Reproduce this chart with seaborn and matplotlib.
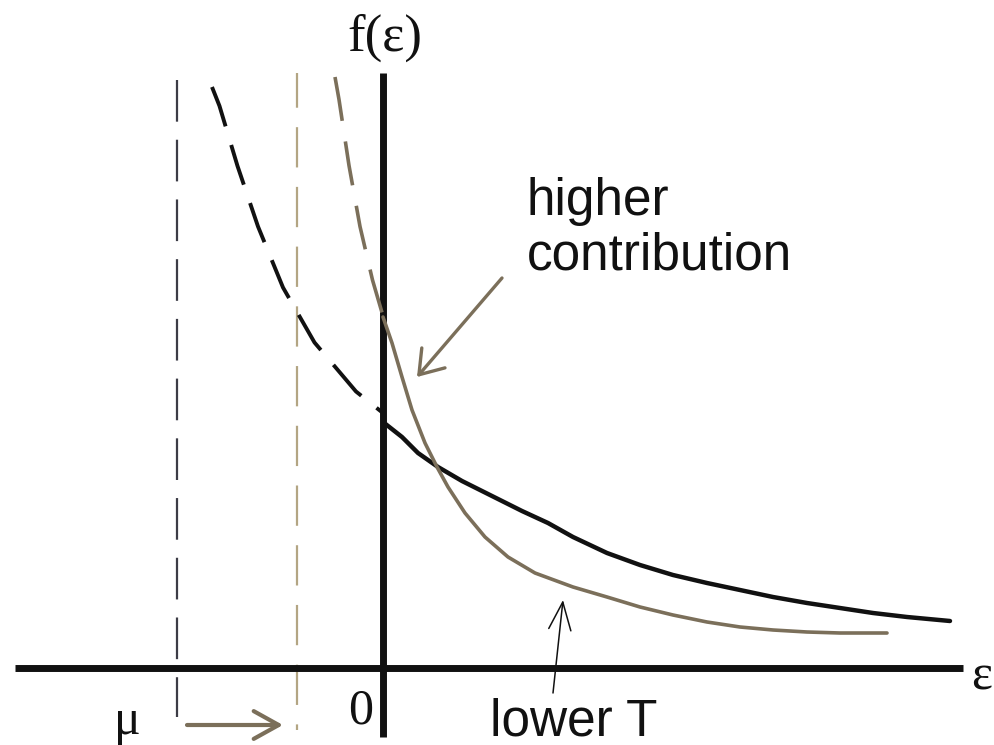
import matplotlib
matplotlib.use("Agg")
import matplotlib.pyplot as plt
import numpy as np
import pandas as pd
import seaborn as sns
from matplotlib.patches import FancyArrowPatch

# Fermi-Dirac style occupation f(eps) sketch: higher T (black) vs lower T (tan)
# Energies measured from the band edge (eps = 0); chemical potentials left of it.
mu_high_T = -2.06
mu_low_T = -0.86

# higher-temperature curve: dashed part below eps = 0, solid part above
high_T_dashed_eps = [-1.71, -1.635, -1.455, -1.25, -1.00, -0.685, -0.27, 0.00]
high_T_dashed_f = [5.81, 5.62, 5.02, 4.415, 3.805, 3.255, 2.765, 2.55]
high_T_eps = [0.00, 0.19, 0.35, 0.55, 0.79, 1.09, 1.39, 1.65, 1.90, 2.24,
              2.57, 2.90, 3.24, 3.57, 3.90, 4.24, 4.57, 4.90, 5.24, 5.67]
high_T_f = [2.46, 2.31, 2.15, 2.01, 1.87, 1.72, 1.57, 1.45, 1.31, 1.15,
            1.03, 0.93, 0.85, 0.78, 0.71, 0.65, 0.60, 0.55, 0.51, 0.47]

# lower-temperature curve
low_T_dashed_eps = [-0.48, -0.44, -0.34, -0.23, -0.105, 0.00]
low_T_dashed_f = [5.91, 5.685, 5.025, 4.415, 3.88, 3.52]
low_T_eps = [0.00, 0.09, 0.19, 0.29, 0.42, 0.54, 0.65, 0.82, 1.02, 1.25, 1.52,
             1.90, 2.24, 2.57, 2.90, 3.24, 3.57, 3.90, 4.24, 4.57, 5.04]
low_T_f = [3.51, 3.25, 2.91, 2.58, 2.25, 2.01, 1.81, 1.55, 1.31, 1.11, 0.95,
           0.81, 0.71, 0.61, 0.53, 0.46, 0.41, 0.38, 0.36, 0.35, 0.35]

BLACK = "#111111"
TAN = "#7b6f5a"
TAN_LIGHT = "#b3a583"
GREY = "#3c3c46"

sns.set_theme(style="white")
plt.rcParams["lines.scale_dashes"] = False
plt.rcParams["lines.solid_joinstyle"] = "round"

fig = plt.figure(figsize=(9.94, 7.45), dpi=100)
ax = fig.add_axes([0, 0, 1, 1])
ax.set_xlim(-3.83, 6.11)
ax.set_ylim(-0.77, 6.68)
ax.axis("off")

# chemical potential markers
ax.plot([mu_high_T, mu_high_T], [5.88, -0.49], color=GREY, lw=1.6,
        linestyle=(0, (30, 13)), solid_capstyle="butt")
ax.plot([mu_low_T, mu_low_T], [5.95, -0.62], color=TAN_LIGHT, lw=1.6,
        linestyle=(4, (29, 14)), solid_capstyle="butt")

# axes
ax.plot([-3.68, 5.80], [0, 0], color=BLACK, lw=5, solid_capstyle="butt")
ax.plot([0, 0], [-0.69, 5.95], color=BLACK, lw=5, solid_capstyle="butt")

# curves
sns.lineplot(x=high_T_dashed_eps, y=high_T_dashed_f, ax=ax, color=BLACK, lw=2.8,
             linestyle=(0, (30, 14)), estimator=None, sort=False)
sns.lineplot(x=high_T_eps, y=high_T_f, ax=ax, color=BLACK, lw=3.2,
             estimator=None, sort=False)
sns.lineplot(x=low_T_dashed_eps, y=low_T_dashed_f, ax=ax, color=TAN, lw=2.6,
             linestyle=(0, (32, 15)), estimator=None, sort=False)
sns.lineplot(x=low_T_eps, y=low_T_f, ax=ax, color=TAN, lw=2.6,
             estimator=None, sort=False)

serif = ["Liberation Serif", "DejaVu Serif"]
sans = ["Liberation Sans", "DejaVu Sans"]

ax.text(0.02, 6.30, "f(ε)", family=serif, fontsize=38, ha="center", va="center", color=BLACK)
ax.text(5.99, -0.09, "ε", family=serif, fontsize=36, ha="center", va="center", color=BLACK)
ax.text(-2.56, -0.54, "μ", family=serif, fontsize=36, ha="center", va="center", color=BLACK)
ax.text(-0.22, -0.43, "0", family=serif, fontsize=36, ha="center", va="center", color=BLACK)

ax.text(1.44, 4.53, "higher", family=sans, fontsize=37, ha="left", va="baseline", color=BLACK)
ax.text(1.44, 3.98, "contribution", family=sans, fontsize=37, ha="left", va="baseline", color=BLACK)
ax.text(1.07, -0.67, "lower T", family=sans, fontsize=37, ha="left", va="baseline", color=BLACK)

# annotation arrows
ax.add_patch(FancyArrowPatch((1.19, 3.90), (0.34, 2.91), arrowstyle="->,head_length=0.8,head_width=0.55",
                             mutation_scale=20, color=TAN, lw=2.4, shrinkA=0, shrinkB=0))
ax.add_patch(FancyArrowPatch((-1.96, -0.57), (-1.00, -0.57), arrowstyle="->,head_length=0.9,head_width=0.5",
                             mutation_scale=20, color=TAN, lw=3.0, shrinkA=0, shrinkB=0))
ax.add_patch(FancyArrowPatch((1.70, -0.25), (1.80, 0.68), arrowstyle="->,head_length=1.0,head_width=0.4",
                             mutation_scale=20, color=BLACK, lw=1.1, shrinkA=0, shrinkB=0))

fig.savefig("out.png", dpi=100)
